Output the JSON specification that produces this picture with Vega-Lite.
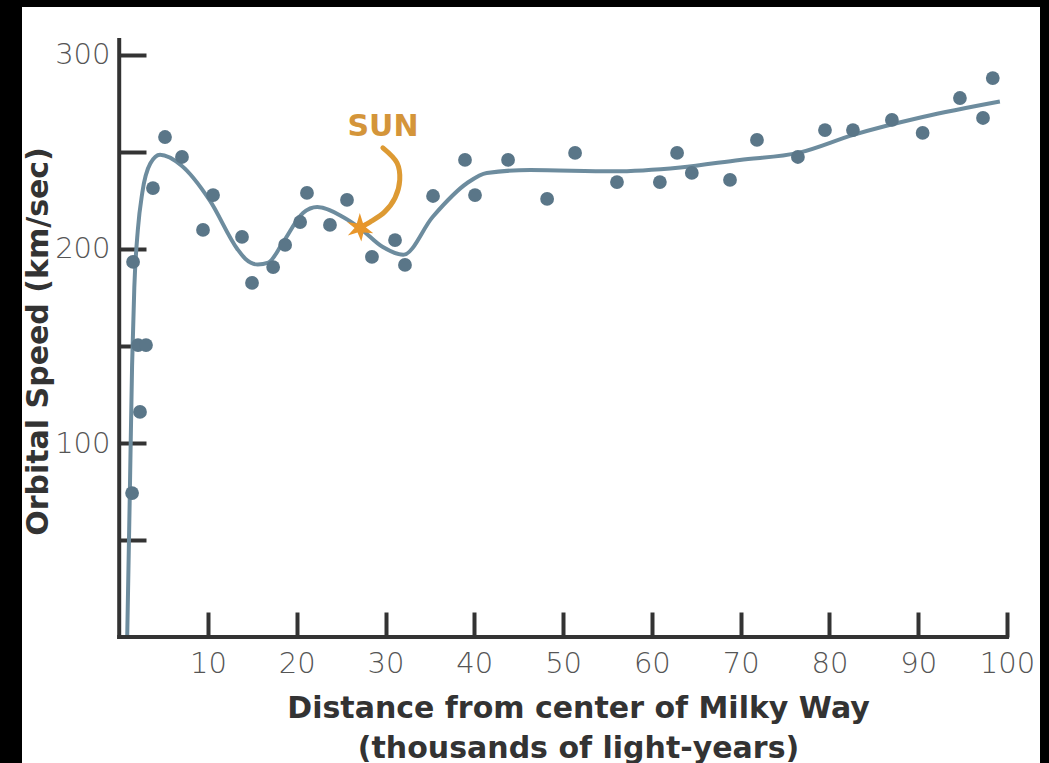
{
  "$schema": "https://vega.github.io/schema/vega-lite/v6.json",
  "width": 1018,
  "height": 756,
  "autosize": {"type": "none"},
  "padding": {"left": 22, "top": 7, "right": 9, "bottom": 0},
  "background": "black",
  "config": {"view": {"fill": "white", "stroke": null}},
  "datasets": {
    "obs": [
      {"d": 1.45, "v": 74.2}, {"d": 2.34, "v": 116.0}, {"d": 2.12, "v": 150.5}, {"d": 3.02, "v": 150.5},
      {"d": 1.56, "v": 193.3}, {"d": 3.8, "v": 231.4}, {"d": 5.16, "v": 257.7}, {"d": 7.07, "v": 247.4},
      {"d": 9.44, "v": 209.8}, {"d": 10.57, "v": 227.8}, {"d": 13.83, "v": 206.2}, {"d": 14.96, "v": 182.5},
      {"d": 17.34, "v": 190.7}, {"d": 18.69, "v": 202.1}, {"d": 20.38, "v": 213.9}, {"d": 21.15, "v": 228.9},
      {"d": 23.74, "v": 212.4}, {"d": 25.66, "v": 225.3}, {"d": 28.47, "v": 195.9}, {"d": 31.07, "v": 204.6},
      {"d": 32.19, "v": 191.8}, {"d": 35.35, "v": 227.3}, {"d": 38.95, "v": 245.9}, {"d": 40.08, "v": 227.8},
      {"d": 43.8, "v": 245.9}, {"d": 48.2, "v": 225.8}, {"d": 51.35, "v": 249.5}, {"d": 56.07, "v": 234.5},
      {"d": 60.9, "v": 234.5}, {"d": 62.84, "v": 249.5}, {"d": 64.5, "v": 239.2}, {"d": 68.8, "v": 235.6},
      {"d": 71.84, "v": 256.2}, {"d": 76.45, "v": 247.4}, {"d": 79.5, "v": 261.3}, {"d": 82.65, "v": 261.3},
      {"d": 87.04, "v": 266.5}, {"d": 90.5, "v": 259.8}, {"d": 94.7, "v": 277.8}, {"d": 97.3, "v": 267.5},
      {"d": 98.4, "v": 288.1}
    ],
    "curve": [
      {"d": 0.9, "v": 0}, {"d": 1.2, "v": 75}, {"d": 1.45, "v": 140}, {"d": 1.7, "v": 180},
      {"d": 2.1, "v": 210}, {"d": 2.6, "v": 229}, {"d": 3.5, "v": 244}, {"d": 4.6, "v": 248.5}, {"d": 7.0, "v": 243},
      {"d": 10.2, "v": 225}, {"d": 13.3, "v": 200}, {"d": 14.2, "v": 195}, {"d": 15.6, "v": 192},
      {"d": 16.8, "v": 193}, {"d": 18.4, "v": 203}, {"d": 20.7, "v": 218.5}, {"d": 22.3, "v": 221.6},
      {"d": 25.2, "v": 216.5}, {"d": 27.1, "v": 210.8}, {"d": 29.7, "v": 201}, {"d": 32.0, "v": 197},
      {"d": 35.3, "v": 216.5}, {"d": 39.2, "v": 234}, {"d": 41.4, "v": 239.2}, {"d": 46.3, "v": 240.7},
      {"d": 55.6, "v": 240}, {"d": 63.2, "v": 242}, {"d": 69.9, "v": 245.9}, {"d": 76.5, "v": 249.5},
      {"d": 82.7, "v": 258.8}, {"d": 90.5, "v": 268}, {"d": 99.2, "v": 276}
    ],
    "arrow": [
      {"k": 1, "d": 29.7, "v": 252.1}, {"k": 2, "d": 31.3, "v": 244.3}, {"k": 3, "d": 31.6, "v": 235.6},
      {"k": 4, "d": 31.07, "v": 226.3}, {"k": 5, "d": 29.9, "v": 219.1}, {"k": 6, "d": 28.25, "v": 213.9},
      {"k": 7, "d": 27.3, "v": 211.5}
    ],
    "one": [{}]
  },
  "layer": [
    {
      "data": {"name": "curve"},
      "mark": {"type": "line", "interpolate": "monotone", "color": "#6d8c9e", "strokeWidth": 4},
      "encoding": {
        "x": {
          "field": "d", "type": "quantitative",
          "scale": {"domain": [-10.95, 103.72], "nice": false, "zero": false},
          "axis": {
            "orient": "bottom", "offset": -126, "values": [10, 20, 30, 40, 50, 60, 70, 80, 90, 100],
            "domain": false, "grid": false, "tickSize": -25, "tickWidth": 4, "tickColor": "#333",
            "labelFont": "DejaVu Sans", "labelFontSize": 29, "labelFontWeight": 300, "labelColor": "#555",
            "labelPadding": 37, "labelFlush": false, "labelOverlap": false,
            "title": ["Distance from center of Milky Way", "(thousands of light-years)"],
            "titleFont": "DejaVu Sans", "titleFontSize": 30, "titleFontWeight": "bold", "titleColor": "#333",
            "titleX": 556, "titleY": 80, "titleBaseline": "alphabetic", "titleAlign": "center", "titleLineHeight": 40
          }
        },
        "y": {
          "field": "v", "type": "quantitative",
          "scale": {"domain": [-64.9, 324.7], "nice": false, "zero": false},
          "axis": {
            "orient": "left", "offset": -97, "values": [50, 100, 150, 200, 250, 300],
            "labelExpr": "datum.value % 100 === 0 ? datum.label : ''",
            "domain": false, "grid": false, "tickSize": -27, "tickWidth": 4, "tickColor": "#333",
            "labelFont": "DejaVu Sans", "labelFontSize": 29, "labelFontWeight": 300, "labelColor": "#555",
            "labelPadding": 36, "labelFlush": false, "labelOverlap": false,
            "title": "Orbital Speed (km/sec)",
            "titleFont": "DejaVu Sans", "titleFontSize": 30, "titleFontWeight": "bold", "titleColor": "#333",
            "titleX": -72, "titleY": 334, "titleAngle": -90, "titleBaseline": "alphabetic", "titleAlign": "center"
          }
        }
      }
    },
    {
      "data": {"name": "obs"},
      "mark": {"type": "point", "filled": true, "color": "#5a7688", "size": 190, "opacity": 1},
      "encoding": {
        "x": {"field": "d", "type": "quantitative"},
        "y": {"field": "v", "type": "quantitative"}
      }
    },
    {
      "data": {"name": "one"},
      "mark": {"type": "rule", "color": "#333", "strokeWidth": 4, "strokeCap": "square"},
      "encoding": {"x": {"datum": 0}, "x2": {"datum": 100}, "y": {"datum": 0}}
    },
    {
      "data": {"name": "one"},
      "mark": {"type": "rule", "color": "#333", "strokeWidth": 4, "strokeCap": "square"},
      "encoding": {"x": {"datum": 0}, "y": {"datum": 0}, "y2": {"datum": 307.7}}
    },
    {
      "data": {"name": "arrow"},
      "mark": {"type": "line", "interpolate": "catmull-rom", "color": "#dd9a33", "strokeWidth": 5, "strokeCap": "round"},
      "encoding": {
        "x": {"field": "d", "type": "quantitative"},
        "y": {"field": "v", "type": "quantitative"},
        "order": {"field": "k", "type": "quantitative"}
      }
    },
    {
      "data": {"name": "one"},
      "mark": {"type": "point", "filled": true, "color": "#e8962a", "opacity": 1, "size": 900,
        "shape": "M0,-1L0.22,-0.3L0.8,-0.55L0.4,-0.05L0.9,0.35L0.25,0.3L0.1,0.9L-0.15,0.3L-0.8,0.5L-0.35,0L-0.85,-0.4L-0.2,-0.3Z"},
      "encoding": {"x": {"datum": 27.1}, "y": {"datum": 210.8}}
    },
    {
      "data": {"name": "one"},
      "mark": {"type": "text", "text": "SUN", "font": "DejaVu Sans", "fontSize": 30, "fontWeight": "bold",
        "color": "#d4953a", "align": "center", "baseline": "middle"},
      "encoding": {"x": {"datum": 29.71}, "y": {"datum": 262.9}}
    }
  ]
}
